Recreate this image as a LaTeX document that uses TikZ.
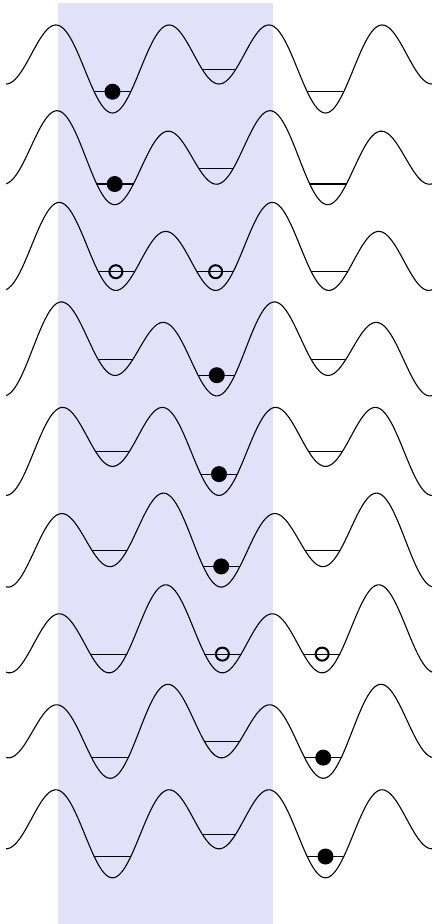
\documentclass[tikz,border=0pt]{standalone}
\usepackage{tikz}
\definecolor{bandcol}{RGB}{225,225,250}
\tikzset{
  potline/.style={line width=1.1pt, black},
  levelline/.style={line width=1.1pt, black},
  fulldot/.style={fill=black},
  opendot/.style={draw=black, line width=2pt},
}
\begin{document}
\begin{tikzpicture}[x=1pt,y=-1pt]
\useasboundingbox (0,0) rectangle (432,924);
\fill[bandcol] (57.7,3) rectangle (273.3,924);
\foreach \n in {1,...,9} {
  \pgfmathsetmacro\yz{62.1+95.6*(\n-1)}
  \pgfmathsetmacro\ph{-45*(\n-1)}
  \begin{scope}
    \clip plot[domain=-1:3, samples=241] ({112.5+106.5*\x}, {\yz + 36.4*cos(360*\x) + 14.5*cos(180*\x+\ph)})
      -- (432.5,\yz-80) -- (6,\yz-80) -- cycle;
    \foreach \m in {0,1,2} {
      \pgfmathsetmacro\lv{\yz+18.4+11.2*cos(180*\m+\ph)}
      \draw[levelline] ({112.5+106.5*(\m-0.5)},\lv) -- ({112.5+106.5*(\m+0.5)},\lv);
    }
  \end{scope}
  \draw[potline] plot[domain=-1:3, samples=241] ({112.5+106.5*\x}, {\yz + 36.4*cos(360*\x) + 14.5*cos(180*\x+\ph)});
}
\foreach \n/\m/\t in {1/0/f, 2/0/f, 3/0/o, 3/1/o, 4/1/f, 5/1/f, 6/1/f, 7/1/o, 7/2/o, 8/2/f, 9/2/f} {
  \pgfmathsetmacro\yz{62.1+95.6*(\n-1)}
  \pgfmathsetmacro\ph{-45*(\n-1)}
  \pgfmathsetmacro\ss{sin(180*\m+\ph)}
  \pgfmathsetmacro\cc{cos(180*\m+\ph)}
  \pgfmathsetmacro\ee{-14.5*\ss/(pi*(145.6+14.5*\cc))}
  \pgfmathsetmacro\px{112.5+106.5*(\m+\ee)}
  \pgfmathsetmacro\py{\yz+18.4+11.2*\cc}
  \if f\t
    \fill[fulldot] (\px,\py) circle[radius=8pt];
  \else
    \draw[opendot] (\px,\py) circle[radius=6.5pt];
  \fi
}
\end{tikzpicture}
\end{document}
